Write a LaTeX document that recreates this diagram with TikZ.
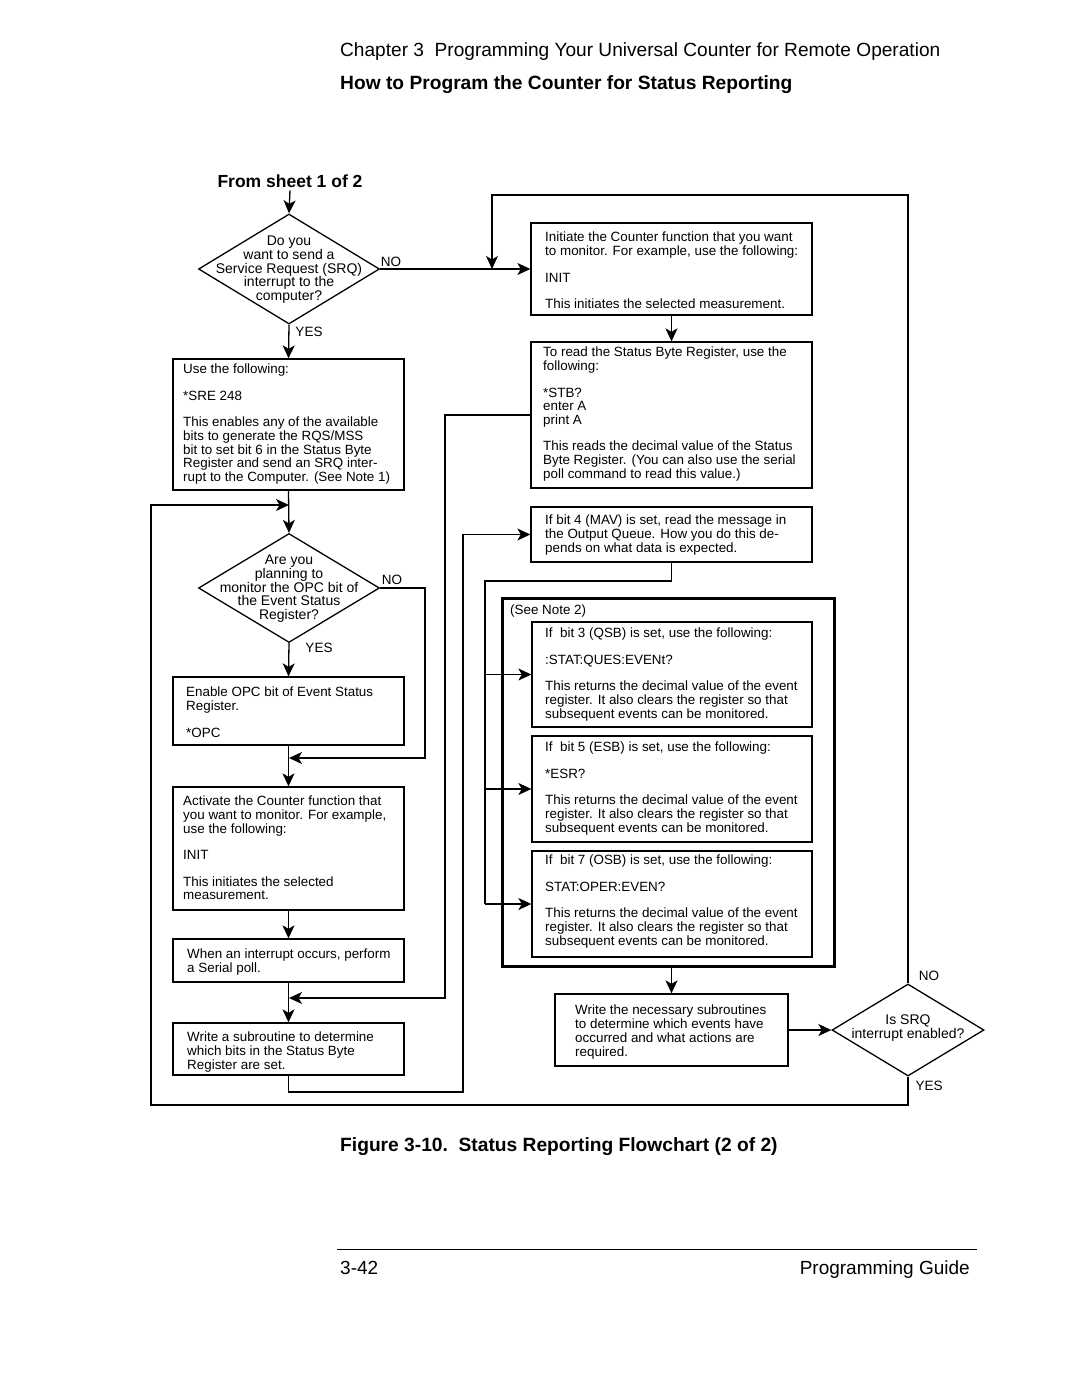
\documentclass[tikz,border=0pt]{standalone}
\usepackage{fontspec}
\setmainfont{Liberation Sans}
\usetikzlibrary{arrows.meta,shapes.geometric,fit}
\begin{document}
\begin{tikzpicture}[x=1pt,y=-1pt,
  box/.style={draw,line width=1.3pt,inner sep=0pt},
  notebox/.style={draw,line width=3pt,inner sep=0pt},
  dia/.style={draw,diamond,line width=1.3pt,inner sep=0pt},
  txt/.style={font=\fontsize{13.4}{13.8}\selectfont,align=left,inner sep=0pt,anchor=north west},
  ctxt/.style={font=\fontsize{14}{13.7}\selectfont,align=center,inner sep=0pt,anchor=north},
  lbl/.style={font=\fontsize{13.5}{13.5}\selectfont,inner sep=0pt},
  flow/.style={line width=1.3pt},
  arr/.style={flow,-{Stealth[length=13pt,width=12pt,inset=3.5pt]}}]
\useasboundingbox (0,0) rectangle (1080,1397);
\fill[white] (0,0) rectangle (1080,1397);

% header
\node[anchor=base west,inner sep=0pt,font=\fontsize{19.1}{21}\selectfont] (hdr1) at (340,57) {Chapter 3\ \ Programming Your Universal Counter for Remote Operation};
\node[anchor=base west,inner sep=0pt,font=\fontsize{19.2}{21}\selectfont\bfseries] (hdr2) at (340,89) {How to Program the Counter for Status Reporting};

% boxes
\node[box,fit={(173,359) (404,490)}] (b1) {};
\node[box,fit={(531,223) (812,315)}] (init) {};
\node[box,fit={(531,342) (812,488)}] (stb) {};
\node[box,fit={(531,507) (812,562)}] (mav) {};
\node[notebox,fit={(502,598) (834,966)}] (note) {};
\node[box,fit={(532,622) (812,727)}] (qsb) {};
\node[box,fit={(532,736) (812,842)}] (esb) {};
\node[box,fit={(532,851) (812,957)}] (osb) {};
\node[box,fit={(173,677) (404,745)}] (opc) {};
\node[box,fit={(173,787) (404,910)}] (act) {};
\node[box,fit={(173,939) (404,982)}] (when) {};
\node[box,fit={(173,1023) (404,1075)}] (wsub) {};
\node[box,fit={(555,994) (788,1066)}] (wnec) {};

% diamonds
\node[dia,minimum width=181pt,minimum height=110pt] (d1) at (289,269) {};
\node[dia,minimum width=181pt,minimum height=109pt] (d2) at (289,588) {};
\node[dia,minimum width=152pt,minimum height=92pt] (d3) at (908,1030) {};

% texts
\node[anchor=base,inner sep=0pt,font=\fontsize{17.5}{18}\selectfont\bfseries] (from) at (290,187) {From sheet 1 of 2};
\node[ctxt] (d1t) at (289,236) {Do you\\want to send a\\Service Request (SRQ)\\interrupt to the\\computer?};
\node[txt] (b1t) at (183,364) {Use the following:\\[12.5pt]*SRE 248\\[12.5pt]This enables any of the available\\bits to generate the RQS/MSS\\bit to set bit 6 in the Status Byte\\Register and send an SRQ inter-\\rupt to the Computer. (See Note 1)};
\node[txt] (initt) at (545,232) {Initiate the Counter function that you want\\to monitor. For example, use the following:\\[12.5pt]INIT\\[12.5pt]This initiates the selected measurement.};
\node[txt] (stbt) at (543,347) {To read the Status Byte Register, use the\\following:\\[12.5pt]*STB?\\enter A\\print A\\[12.5pt]This reads the decimal value of the Status\\Byte Register. (You can also use the serial\\poll command to read this value.)};
\node[txt] (mavt) at (545,515) {If bit 4 (MAV) is set, read the message in\\the Output Queue. How you do this de-\\pends on what data is expected.};
\node[txt] (notet) at (510,605) {(See Note 2)};
\node[txt] (qsbt) at (545,628) {If\ \ bit 3 (QSB) is set, use the following:\\[12.5pt]:STAT:QUES:EVENt?\\[12.5pt]This returns the decimal value of the event\\register. It also clears the register so that\\subsequent events can be monitored.};
\node[txt] (esbt) at (545,742) {If\ \ bit 5 (ESB) is set, use the following:\\[12.5pt]*ESR?\\[12.5pt]This returns the decimal value of the event\\register. It also clears the register so that\\subsequent events can be monitored.};
\node[txt] (osbt) at (545,855) {If\ \ bit 7 (OSB) is set, use the following:\\[12.5pt]STAT:OPER:EVEN?\\[12.5pt]This returns the decimal value of the event\\register. It also clears the register so that\\subsequent events can be monitored.};
\node[ctxt] (d2t) at (289,555) {Are you\\planning to\\monitor the OPC bit of\\the Event Status\\Register?};
\node[txt] (opct) at (186,687) {Enable OPC bit of Event Status\\Register.\\[12.5pt]*OPC};
\node[txt] (actt) at (183,796) {Activate the Counter function that\\you want to monitor. For example,\\use the following:\\[12.5pt]INIT\\[12.5pt]This initiates the selected\\measurement.};
\node[txt] (whent) at (187,949) {When an interrupt occurs, perform\\a Serial poll.};
\node[txt] (wsubt) at (187,1032) {Write a subroutine to determine\\which bits in the Status Byte\\Register are set.};
\node[txt] (wnect) at (575,1005) {Write the necessary subroutines\\to determine which events have\\occurred and what actions are\\required.};
\node[ctxt] (d3t) at (908,1015) {Is SRQ\\interrupt enabled?};

% labels
\node[lbl] (no1) at (391,262) {NO};
\node[lbl] (yes1) at (309,332) {YES};
\node[lbl] (no2) at (392,580) {NO};
\node[lbl] (yes2) at (319,648) {YES};
\node[lbl] (no3) at (929,976) {NO};
\node[lbl] (yes3) at (929,1086) {YES};

% coordinates
\coordinate (loopTR) at (908,195);
\coordinate (loopTL) at (492,195);
\coordinate (tj) at (492,269);
\coordinate (bl) at (151,1105);
\coordinate (llj) at (289,505);
\coordinate (no2c) at (425,588);
\coordinate (nj) at (289,758);
\coordinate (stbc) at (445,415);
\coordinate (sj) at (289,998);
\coordinate (wsubc) at (463,1092);
\coordinate (trunk) at (485,581);

% connectors
\draw[arr] (from.south) ++(0,3) -- (d1.north);
\draw[arr] (d1.south) -- (b1.north);
\draw[arr] (d1.east) -- (init.west);
\draw[arr] (d3.north) -- (loopTR) -- (loopTL) -- (tj);
\draw[arr] (init.south) -- (stb.north);
\draw[arr] (b1.south) -- (d2.north);
\draw[arr] (d3.south) |- (bl) |- (llj);
\draw[arr] (d2.south) -- (opc.north);
\draw[arr] (d2.east) -- (no2c) |- (nj);
\draw[arr] (opc.south) -- (act.north);
\draw[arr] (act.south) -- (when.north);
\draw[arr] (stb.west) -- (stbc) |- (sj);
\draw[arr] (when.south) -- (wsub.north);
\draw[arr] (wsub.south) |- (wsubc) |- (mav.west);
\draw[flow] (mav.south) |- (trunk) -- (trunk |- osb.west);
\draw[arr] (trunk |- qsb.west) -- (qsb.west);
\draw[arr] (trunk |- esb.west) -- (esb.west);
\draw[arr] (trunk |- osb.west) -- (osb.west);
\draw[arr] (wnec.north |- note.south) -- (wnec.north);
\draw[arr] (wnec.east) -- (d3.west);

% caption and footer
\node[anchor=base west,inner sep=0pt,font=\fontsize{19.2}{21}\selectfont\bfseries] (cap) at (340,1151) {Figure 3-10.\ \ Status Reporting Flowchart (2 of 2)};
\coordinate (fl) at (337,1249);
\coordinate (fr) at (977,1249);
\draw[line width=1pt] (fl) -- (fr);
\node[anchor=base west,inner sep=0pt,font=\fontsize{19}{21}\selectfont] (pg) at (340,1274) {3-42};
\node[anchor=base east,inner sep=0pt,font=\fontsize{19}{21}\selectfont] (guide) at (970,1274) {Programming Guide};
\end{tikzpicture}
\end{document}
